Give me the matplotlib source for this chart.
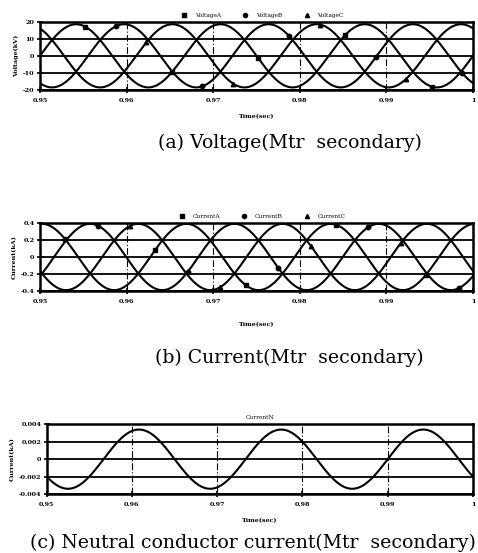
import numpy as np
import matplotlib
matplotlib.use("Agg")
import matplotlib.pyplot as plt
from matplotlib.lines import Line2D

# time window and waveform parameters
t_start, t_end = 0.95, 1.0
freq = 60.0  # Hz, 3 full cycles in the window

v_labels = ["VoltageA", "VoltageB", "VoltageC"]
v_amp = [18.5, 18.5, 18.5]          # kV
v_phase = [0.0, -120.0, 120.0]      # deg at t = 0.95
v_markers = ["s", "o", "^"]

i_labels = ["CurrentA", "CurrentB", "CurrentC"]
i_amp = [0.39, 0.39, 0.39]          # kA
i_phase = [85.0, -35.0, 205.0]      # deg at t = 0.95
i_markers = ["s", "o", "^"]

n_label = "CurrentN"
n_amp = 0.0034                      # kA
n_phase = 216.0                     # deg at t = 0.95

x_ticks = [0.95, 0.96, 0.97, 0.98, 0.99, 1.0]
x_ticklabels = ["0.95", "0.96", "0.97", "0.98", "0.99", "1"]
v_ticks = [20, 10, 0, -10, -20]
i_ticks = [0.4, 0.2, 0, -0.2, -0.4]
n_ticks = [0.004, 0.002, 0, -0.002, -0.004]
n_ticklabels = ["0.004", "0.002", "0", "-0.002", "-0.004"]

captions = ["(a) Voltage(Mtr  secondary)",
            "(b) Current(Mtr  secondary)",
            "(c) Neutral conductor current(Mtr  secondary)"]

t = np.linspace(t_start, t_end, 1201)


def wave(amp, phase_deg):
    return amp * np.sin(2 * np.pi * freq * (t - t_start) + np.deg2rad(phase_deg))


small = dict(family="DejaVu Serif", fontsize=4.6, fontweight="bold")


def style_axes(ax, yticks, ylim, ylabel, yticklabels=None, xpad=8):
    ax.set_xlim(t_start, t_end)
    ax.set_ylim(*ylim)
    ax.set_xticks(x_ticks)
    ax.set_xticklabels(x_ticklabels, **small)
    ax.set_yticks(yticks)
    ax.set_yticklabels(yticklabels if yticklabels else [f"{v:g}" for v in yticks], **small)
    ax.tick_params(direction="inout", length=4, width=1.2, colors="black")
    ax.tick_params(axis="x", pad=4)
    ax.tick_params(axis="y", pad=2)
    for s in ax.spines.values():
        s.set_linewidth(1.8)
    for y in yticks:
        ax.axhline(y, color="black", lw=1.3, zorder=1)
    for x in x_ticks[1:-1]:
        ax.axvline(x, color="black", lw=0.8, ls=(0, (6, 2, 1, 2)), zorder=1)
    ax.set_xlabel("Time(sec)", labelpad=xpad, **small)
    ax.set_ylabel(ylabel, labelpad=3, **small)


fig = plt.figure(figsize=(4.78, 5.53), dpi=100)

# (a) voltage
ax1 = fig.add_axes([0.0837, 0.8373, 0.9059, 0.1235])
for k in range(3):
    ax1.plot(t, wave(v_amp[k], v_phase[k]), color="black", lw=1.5,
             marker=v_markers[k], ms=3.2, markevery=(125 + 85 * k, 240), zorder=3)
style_axes(ax1, v_ticks, (-20, 20), "Voltage(kV)")
h1 = [Line2D([], [], color="black", ls="none", marker=m, ms=3) for m in v_markers]
ax1.legend(h1, v_labels, loc="lower center", bbox_to_anchor=(0.51, 1.0), ncol=3,
           frameon=False, prop=dict(family="DejaVu Serif", size=4.2),
           handletextpad=0.8, columnspacing=3.2, borderaxespad=0.3)

# (b) current
ax2 = fig.add_axes([0.0837, 0.4738, 0.9059, 0.1230])
for k in range(3):
    ax2.plot(t, wave(i_amp[k], i_phase[k]), color="black", lw=1.5,
             marker=i_markers[k], ms=3.2, markevery=(70 + 90 * k, 250), zorder=3)
style_axes(ax2, i_ticks, (-0.4, 0.4), "Current(kA)", xpad=13)
h2 = [Line2D([], [], color="black", ls="none", marker=m, ms=3) for m in i_markers]
ax2.legend(h2, i_labels, loc="lower center", bbox_to_anchor=(0.51, 1.0), ncol=3,
           frameon=False, prop=dict(family="DejaVu Serif", size=4.2),
           handletextpad=0.8, columnspacing=3.2, borderaxespad=0.3)

# (c) neutral current
ax3 = fig.add_axes([0.0977, 0.1067, 0.8918, 0.1260])
ax3.plot(t, wave(n_amp, n_phase), color="black", lw=1.5, zorder=3)
style_axes(ax3, n_ticks, (-0.004, 0.004), "Current(kA)", n_ticklabels)
ax3.text(0.5, 1.06, n_label, transform=ax3.transAxes, ha="center", va="bottom",
         family="DejaVu Serif", fontsize=4.2)

# captions under each panel
fig.text(0.607, 0.7414, captions[0], ha="center", va="center",
         family="DejaVu Serif", fontsize=13.6)
fig.text(0.605, 0.3526, captions[1], ha="center", va="center",
         family="DejaVu Serif", fontsize=13.6)
fig.text(0.062, 0.0181, captions[2], ha="left", va="center",
         family="DejaVu Serif", fontsize=13.6)

fig.savefig("out.png", dpi=100)
